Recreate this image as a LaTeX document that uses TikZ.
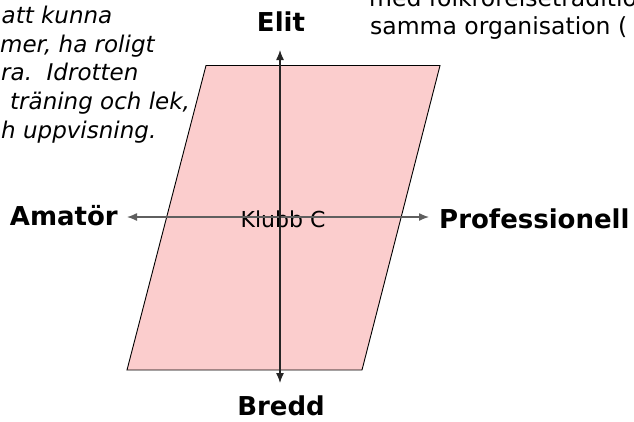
\documentclass[tikz,border=0pt]{standalone}
\usepackage{fontspec}
\usetikzlibrary{arrows.meta}
\setmainfont{DejaVu Sans}
\definecolor{rutrosa}{RGB}{251,205,205}
\definecolor{axelgra}{RGB}{95,95,95}
\tikzset{
  etikett/.style={font=\fontsize{26}{30}\selectfont\bfseries, inner sep=0pt},
  brodtext/.style={font=\fontsize{23.5}{28}\selectfont, inner sep=0pt, anchor=base west},
  kursiv/.style={brodtext, font=\fontsize{23}{28}\selectfont\itshape},
  axel/.style={line width=1.3pt, {Latex[length=10pt,width=8pt]}-{Latex[length=10pt,width=8pt]}}
}
\begin{document}
\begin{tikzpicture}[x=1pt,y=-1pt]
\useasboundingbox (0,0) rectangle (634,421);
\clip (0,0) rectangle (634,421);

% parallelogram
\filldraw[fill=rutrosa, draw=black, line width=0.9pt]
  (206,65.5) -- (440,65.5) -- (362,370) -- (127,370) -- cycle;

% texts around
\node[kursiv] (t1) at (1.5,23) {att kunna};
\node[kursiv] (t2) at (0,52) {mer, ha roligt};
\node[kursiv] (t3) at (1,80.5) {ra.\ \ Idrotten};
\node[kursiv] (t4) at (10,109) {träning och lek,};
\node[kursiv] (t5) at (1,138) {h uppvisning.};
\node[brodtext] (r1) at (369,6) {med folkrörelsetradition};
\node[brodtext] (r2) at (370,34) {samma organisation (};

% axis labels
\node[etikett] (elit) at (281,22) {Elit};
\node[etikett] (bredd) at (281,406) {Bredd};
\node[etikett, anchor=east] (amator) at (118,216) {Amatör};
\node[etikett, anchor=west] (prof) at (439,219) {Professionell};
\node[inner sep=0pt, font=\fontsize{22}{26}\selectfont] (klubb) at (283,219) {Klubb C};

\coordinate (axel-n) at (280,50);
\coordinate (axel-s) at (280,383);
\coordinate (axel-v) at (127,217);
\coordinate (axel-o) at (429,217);

\path[draw,axel,axelgra] (axel-v) -- (axel-o);
\path[draw,axel,black!85] (axel-n) -- (axel-s);
\end{tikzpicture}
\end{document}
